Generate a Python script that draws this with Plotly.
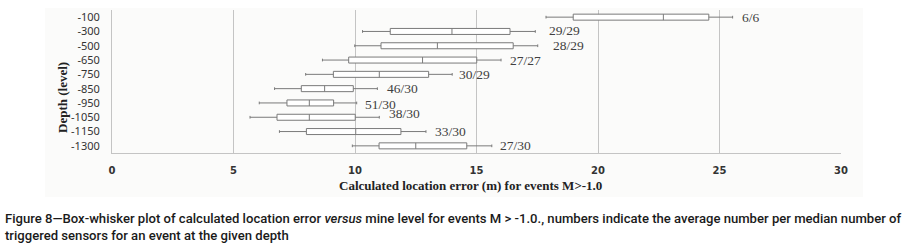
import plotly.graph_objects as go

depths = ["-100", "-300", "-500", "-650", "-750", "-850", "-950", "-1050", "-1150", "-1300"]
whisker_low = [17.86, 10.31, 9.99, 8.66, 7.97, 6.69, 6.06, 5.68, 6.89, 9.89]
q1 = [18.98, 11.45, 11.07, 9.74, 9.11, 7.79, 7.20, 6.79, 8.00, 10.99]
median = [22.69, 13.99, 13.39, 12.78, 11.00, 8.75, 8.12, 8.12, 10.03, 12.50]
q3 = [24.56, 16.38, 16.51, 15.01, 13.03, 9.93, 9.12, 10.01, 11.89, 14.60]
whisker_high = [25.54, 17.42, 17.52, 16.01, 14.00, 10.92, 10.07, 11.00, 12.92, 15.63]
sensor_labels = ["6/6", "29/29", "28/29", "27/27", "30/29", "46/30", "51/30", "38/30", "33/30", "27/30"]
label_x = [25.84, 17.89, 18.05, 16.30, 14.20, 11.23, 10.33, 11.30, 13.20, 15.87]
label_shift = [0, 1, 0, 0, 0, 0, -1.5, 3.5, 0, 0]
x_ticks = [0, 5, 10, 15, 20, 25, 30]

W, H = 907, 247
L, R, T, B = 112, 66, 10, 94
pw, ph = W - L - R, H - T - B

def px(x):
    return (x - L) / pw

def py(y):
    return (H - B - y) / ph

pos = list(range(len(depths)))

fig = go.Figure()
fig.add_trace(go.Box(
    y=pos, q1=q1, median=median, q3=q3,
    lowerfence=whisker_low, upperfence=whisker_high,
    orientation="h", width=0.42, whiskerwidth=0.45,
    fillcolor="white", line=dict(color="#7a7a7a", width=1),
    boxpoints=False, showlegend=False, hoverinfo="skip",
))

annotations = []
for p, t, lx, sh in zip(pos, sensor_labels, label_x, label_shift):
    annotations.append(dict(
        x=lx, y=p, xref="x", yref="y", text=t, showarrow=False,
        xanchor="left", yanchor="middle", yshift=sh,
        font=dict(family="Liberation Serif", size=13.5, color="#404040"),
    ))

annotations += [
    dict(x=px(470), y=py(185), xref="paper", yref="paper",
         text="Calculated location error (m) for events M>-1.0", showarrow=False,
         xanchor="center", yanchor="middle",
         font=dict(family="Liberation Serif", size=13, color="#222222", weight="bold")),
    dict(x=px(62), y=py(98), xref="paper", yref="paper",
         text="Depth (level)", showarrow=False, textangle=-90,
         xanchor="center", yanchor="middle",
         font=dict(family="Liberation Serif", size=13, color="#222222", weight="bold")),
    dict(x=px(3), y=py(218), xref="paper", yref="paper",
         text="Figure 8\u2014Box-whisker plot of calculated location error <i>versus</i> mine level for events M > -1.0., numbers indicate the average number per median number of",
         showarrow=False, xanchor="left", yanchor="middle",
         font=dict(family="Roboto", size=13.1, color="#1a1a1a", weight=500)),
    dict(x=px(3), y=py(235), xref="paper", yref="paper",
         text="triggered sensors for an event at the given depth",
         showarrow=False, xanchor="left", yanchor="middle",
         font=dict(family="Roboto", size=13.1, color="#1a1a1a", weight=500)),
]

fig.update_layout(
    width=W, height=H,
    margin=dict(l=L, r=R, t=T, b=B, pad=0, autoexpand=False),
    paper_bgcolor="white", plot_bgcolor="rgba(0,0,0,0)",
    annotations=annotations,
    hovermode=False,
    shapes=[dict(type="rect", xref="paper", yref="paper",
                 x0=px(45), x1=px(863), y0=py(197), y1=py(8),
                 fillcolor="#fbfbfa", line=dict(width=0), layer="below")],
    xaxis=dict(range=[0, 30], tickvals=x_ticks, ticktext=[str(v) for v in x_ticks],
               showgrid=True, gridcolor="#c4c4c4", gridwidth=1,
               showline=True, linecolor="#c4c4c4", linewidth=1,
               zeroline=False, ticks="", ticklabelstandoff=8,
               tickfont=dict(family="DejaVu Sans", size=10, color="#333333", weight="bold")),
    yaxis=dict(range=[9.5, -0.5], tickvals=pos, ticktext=depths,
               showgrid=False, showline=True, linecolor="#c4c4c4", linewidth=1,
               zeroline=False, ticks="", ticklabelstandoff=9,
               tickfont=dict(family="Noto Sans", size=11, color="#333333")),
)

fig.write_html("out.html", config={"displayModeBar": False, "staticPlot": True},
               post_script="document.body.style.margin='0';document.body.style.overflow='hidden';")
